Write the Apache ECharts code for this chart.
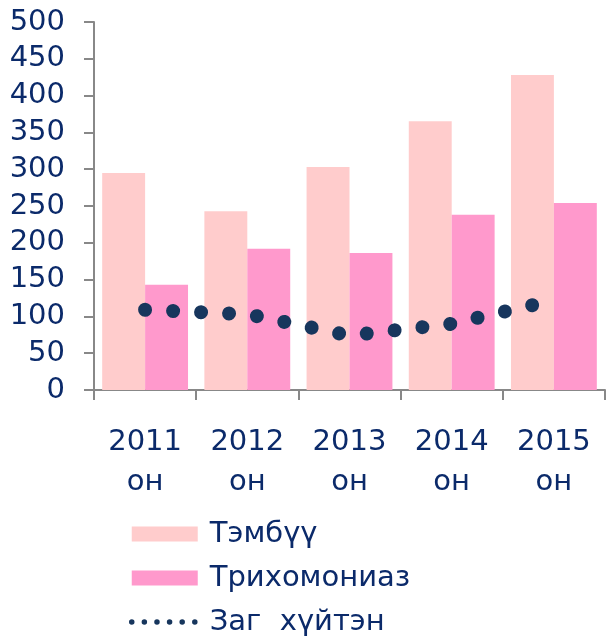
<!DOCTYPE html>
<html>
<head>
<meta charset="utf-8">
<script src="https://cdn.jsdelivr.net/npm/echarts@6/dist/echarts.min.js"></script>
<style>
	html, body { margin: 0; padding: 0; background: #fff; }
	#chart { width: 606px; height: 637px; }
</style>
</head>
<body>
<div id="chart"></div>
<script>
	// 数据
	const categories = ['2011\nон', '2012\nон', '2013\nон', '2014\nон', '2015\nон'];
	const tembuu = [295, 243, 303, 365, 428];
	const trikho = [143, 192, 186, 238, 254];
	const zag = [109, 103, 74, 90, 122];
	const yTicks = [0, 500, 50]; // min, max, interval

	const textColor = '#0B2A6A';
	const fontFamily = "'DejaVu Sans', sans-serif";

	const myChart = echarts.init(document.getElementById('chart'));
	const option = {
		backgroundColor: '#fff',
		animation: false,
		grid: { left: 94, top: 22, right: 1, bottom: 247 },
		legend: {
			orient: 'vertical',
			left: 129,
			top: 519,
			padding: 0,
			itemWidth: 66,
			itemHeight: 15,
			itemGap: 14,
			textStyle: { color: textColor, fontSize: 29, lineHeight: 30, fontFamily: fontFamily, padding: [0, 0, 0, 7] },
			data: [
				{ name: 'Тэмбүү', icon: 'rect' },
				{ name: 'Трихомониаз', icon: 'rect' },
				{
					name: 'Заг  хүйтэн', icon: 'inherit',
					itemStyle: { opacity: 0 },
					lineStyle: { width: 5.5, type: [0.01, 12.6], cap: 'round', color: '#17365D', opacity: 1 }
				}
			]
		},
		xAxis: {
			type: 'category',
			data: categories,
			axisLine: { lineStyle: { color: '#888', width: 2 } },
			axisTick: { show: true, length: 10, lineStyle: { color: '#888', width: 2 } },
			axisLabel: {
				interval: 0, margin: 32, color: textColor, fontSize: 29,
				fontFamily: fontFamily, lineHeight: 40
			}
		},
		yAxis: {
			type: 'value',
			min: yTicks[0], max: yTicks[1], interval: yTicks[2],
			splitLine: { show: false },
			axisLine: { show: true, lineStyle: { color: '#888', width: 2 } },
			axisTick: { show: true, length: 10, lineStyle: { color: '#888', width: 2 } },
			axisLabel: { margin: 29, color: textColor, fontSize: 29, fontFamily: fontFamily }
		},
		series: [
			{
				name: 'Тэмбүү', type: 'bar', data: tembuu,
				barGap: '0%', barCategoryGap: '16%',
				itemStyle: { color: '#FFCCCC' }
			},
			{
				name: 'Трихомониаз', type: 'bar', data: trikho,
				itemStyle: { color: '#FF99CC' }
			},
			{
				name: 'Заг  хүйтэн', type: 'line', data: zag,
				symbol: 'none', z: 5,
				lineStyle: { color: '#17365D', width: 14, type: [0.01, 28], cap: 'round' },
				itemStyle: { color: '#17365D' }
			}
		]
	};
	myChart.setOption(option);
</script>
</body>
</html>
